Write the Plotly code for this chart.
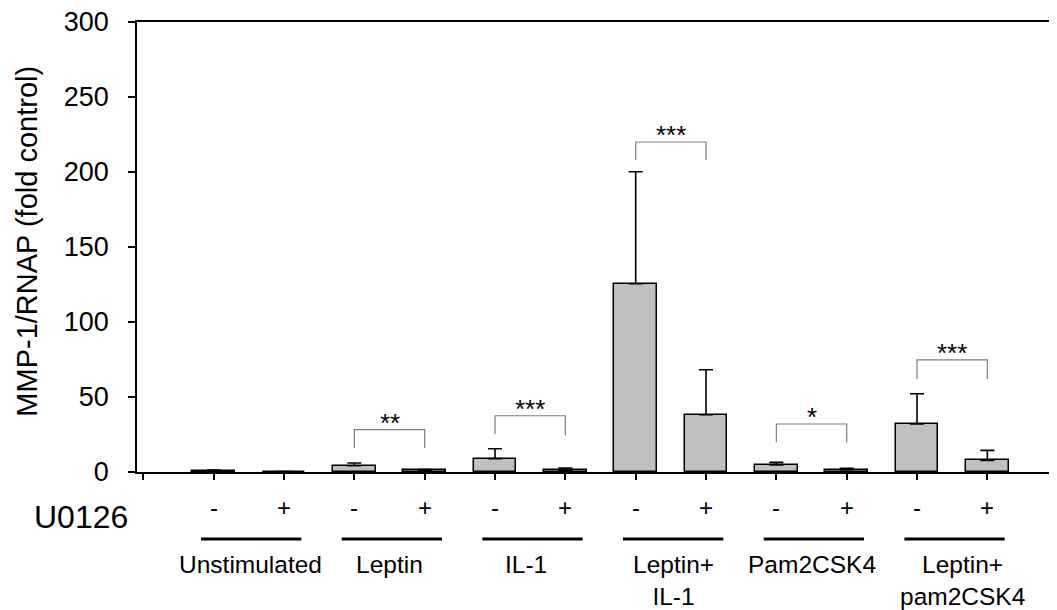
import plotly.graph_objects as go

# ---- data ----
groups = ["Unstimulated", "Leptin", "IL-1", "Leptin+<br>IL-1", "Pam2CSK4", "Leptin+<br>pam2CSK4"]
u0126 = ["-", "+"]
means = [0.9, 0.3, 4.2, 1.1, 8.9, 1.1, 125.5, 38.2, 4.7, 1.5, 32.0, 7.7]
errors = [0.4, 0.0, 1.8, 0.6, 6.6, 1.6, 74.7, 30.0, 1.7, 0.9, 20.2, 6.7]
# significance brackets
sig_left = [3, 5, 7, 9, 11]
sig_right = [4, 6, 8, 10, 12]
sig_top = [28.2, 37.5, 220.0, 32.0, 74.7]
sig_foot_l = [16.0, 25.3, 208.0, 19.7, 62.0]
sig_foot_r = [16.0, 24.4, 208.0, 19.7, 62.0]
sig_label = ["**", "***", "***", "*", "***"]
y_ticks = [0, 50, 100, 150, 200, 250, 300]

FONT = "Liberation Sans, Arial, sans-serif"
xpos = list(range(1, len(means) + 1))

fig = go.Figure()
fig.add_trace(go.Bar(
    x=xpos, y=means, width=0.607,
    marker=dict(color="#c0c0c0", line=dict(color="black", width=1.5)),
    error_y=dict(type="data", array=errors, arrayminus=[0] * len(errors),
                 symmetric=False, color="black", thickness=1.6, width=7),
    showlegend=False, hoverinfo="skip",
))

annotations = []
shapes = []
for l, r, t, fl, fr, lab in zip(sig_left, sig_right, sig_top, sig_foot_l, sig_foot_r, sig_label):
    fig.add_trace(go.Scatter(
        x=[l, l, r, r], y=[fl, t, t, fr], mode="lines",
        line=dict(color="#7f7f7f", width=1.2), showlegend=False, hoverinfo="skip"))
    annotations.append(dict(x=(l + r) / 2, y=t, xref="x", yref="y", text=lab,
                            showarrow=False, yanchor="bottom", yshift=-10,
                            font=dict(size=26, color="black", family=FONT)))

# U0126 -/+ labels
for i, xv in enumerate(xpos):
    annotations.append(dict(x=xv, y=-0.079, xref="x", yref="paper", text=u0126[i % 2],
                            showarrow=False, yanchor="middle",
                            font=dict(size=24, color="black", family=FONT)))
annotations.append(dict(x=-0.0609, y=-0.101, xref="paper", yref="paper", text="U0126",
                        showarrow=False, xanchor="center", yanchor="middle",
                        font=dict(size=32, color="black", family=FONT)))

# group underline + labels
label_shift = [2, 0, -4, 3, 0, 10]
for g, name in enumerate(groups):
    a, b = xpos[2 * g], xpos[2 * g + 1]
    shapes.append(dict(type="line", xref="x", yref="paper", x0=a - 0.18, x1=b + 0.246,
                       y0=-0.149, y1=-0.149, line=dict(color="black", width=3)))
    annotations.append(dict(x=(a + b) / 2, y=-0.172, xref="x", yref="paper", text=name,
                            showarrow=False, yanchor="top", xshift=label_shift[g],
                            font=dict(size=24.5, color="black", family=FONT)))

# y title
annotations.append(dict(x=-0.1196, y=0.514, xref="paper", yref="paper",
                        text="MMP-1/RNAP (fold control)", textangle=-90, showarrow=False,
                        xanchor="center", yanchor="middle",
                        font=dict(size=29, color="black", family=FONT)))

fig.update_layout(
    width=1049, height=602,
    margin=dict(l=129, r=0, t=14, b=138, pad=0),
    paper_bgcolor="white", plot_bgcolor="white",
    font=dict(family=FONT, color="black"),
    bargap=0,
    annotations=annotations, shapes=shapes,
    xaxis=dict(range=[-0.09, 12.99], tickmode="array", tickvals=list(range(0, 13)),
               ticktext=[""] * 13, ticks="outside", ticklen=6, tickwidth=1.5,
               tickcolor="black", showline=True, linecolor="black", linewidth=1.8,
               mirror=True, showgrid=False, zeroline=False, fixedrange=True),
    yaxis=dict(range=[0, 300], tickmode="array", tickvals=y_ticks,
               ticks="outside", ticklen=7, tickwidth=1.5, tickcolor="black",
               showline=True, linecolor="black", linewidth=1.8, showgrid=False,
               zeroline=False, ticklabelstandoff=14, ticklabeloverflow="allow",
               tickfont=dict(size=27, color="black", family=FONT)),
)

fig.write_html("out.html")
